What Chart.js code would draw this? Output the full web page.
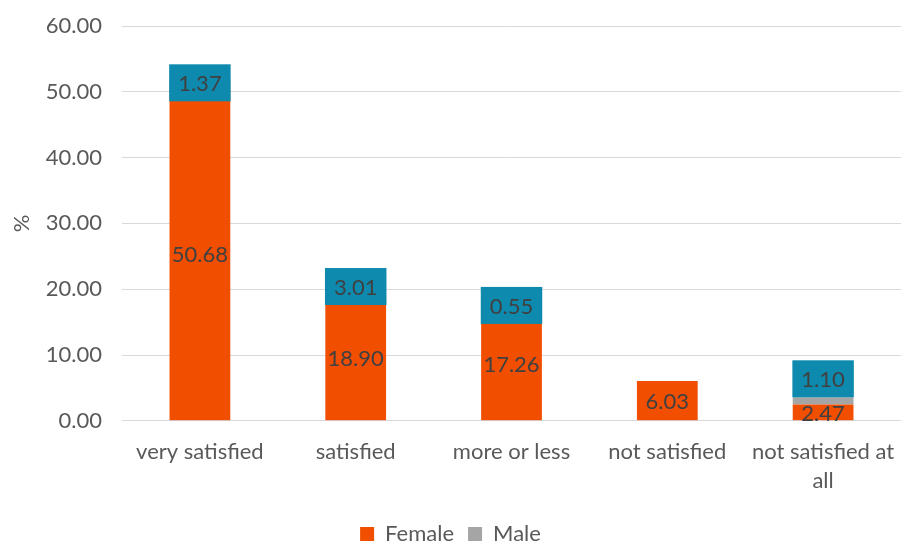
<!DOCTYPE html>
<html>
<head>
<meta charset="utf-8">
<script src="https://cdn.jsdelivr.net/npm/chart.js@4.4.0/dist/chart.umd.min.js"></script>
<style>
  html, body { margin: 0; padding: 0; background: #fff; }
  #wrap { width: 901px; height: 543px; }
</style>
</head>
<body>
<div id="wrap"><canvas id="c"></canvas></div>
<script>
// values
const categories = ["very satisfied", "satisfied", "more or less", "not satisfied", ["not satisfied at", "all"]];
const female = [50.68, 18.90, 17.26, 6.03, 2.47];
const male = [1.37, 3.01, 0.55, 0, 1.10];
const yTicks = [0, 10, 20, 30, 40, 50, 60];

const FONT = "Lato";
const txt = "#595959";

// draws the numbers on the bars (no datalabels plugin around)
const labelPlugin = {
  id: "barLabels",
  afterDatasetsDraw(chart) {
    const ctx = chart.ctx;
    ctx.save();
    ctx.font = "22px " + FONT;
    ctx.textAlign = "center";
    ctx.textBaseline = "middle";
    const fMeta = chart.getDatasetMeta(0).data;
    fMeta.forEach((bar, i) => {
      const mid = (bar.y + bar.base) / 2;
      ctx.fillStyle = "#404040";
      ctx.fillText(female[i].toFixed(2), bar.x, mid + 1);
    });
    chart.getDatasetMeta(1).data.forEach((bar, i) => {
      if (!male[i]) return;
      let mid = (bar.y + bar.base) / 2;
      const s = male[i].toFixed(2);
      const w = ctx.measureText(s).width + 18;
      const h = 37;
      // push the box up when it would sit on the female label
      const fMid = (fMeta[i].y + fMeta[i].base) / 2;
      if (mid + h / 2 > fMid - 12) mid = bar.y - h / 2;
      ctx.fillStyle = "#0E8AAE";
      ctx.fillRect(bar.x - w / 2, mid - h / 2, w, h);
      ctx.fillStyle = "#404040";
      ctx.fillText(s, bar.x, mid + 1);
    });
    ctx.restore();
  }
};

new Chart(document.getElementById("c"), {
  type: "bar",
  data: {
    labels: categories,
    datasets: [
      { label: "Female", data: female, backgroundColor: "#F24E00" },
      { label: "Male", data: male, backgroundColor: "#A5A5A5" }
    ]
  },
  options: {
    responsive: true,
    maintainAspectRatio: false,
    animation: false,
    layout: { padding: { left: 0, right: 0, top: 26, bottom: -12 } },
    datasets: { bar: { categoryPercentage: 1, barPercentage: 0.39 } },
    plugins: {
      legend: {
        position: "bottom",
        labels: { font: { family: FONT, size: 22 }, color: txt, boxWidth: 14, boxHeight: 14, padding: 14 }
      },
      tooltip: { enabled: false }
    },
    scales: {
      x: {
        stacked: true,
        grid: { display: false },
        border: { color: "#d9d9d9" },
        ticks: { font: { family: FONT, size: 22, lineHeight: 1.3 }, color: txt, maxRotation: 0, autoSkip: false, padding: 9 },
        afterFit(axis) { axis.paddingLeft = 0; axis.paddingRight = 0; axis.height += 5; }
      },
      y: {
        stacked: true,
        min: 0,
        max: 60,
        afterBuildTicks(axis) { axis.ticks = yTicks.map(v => ({ value: v })); },
        afterFit(axis) { axis.width = 122; axis.paddingTop = 0; axis.paddingBottom = 0; },
        grid: { color: "#d9d9d9", drawTicks: false },
        border: { display: false },
        ticks: { font: { family: FONT, size: 22 }, color: txt, padding: 20, callback: v => v.toFixed(2) },
        title: { display: true, text: "%", font: { family: FONT, size: 22 }, color: txt, padding: { top: 9, bottom: 0 } }
      }
    }
  },
  plugins: [labelPlugin]
});
</script>
</body>
</html>
